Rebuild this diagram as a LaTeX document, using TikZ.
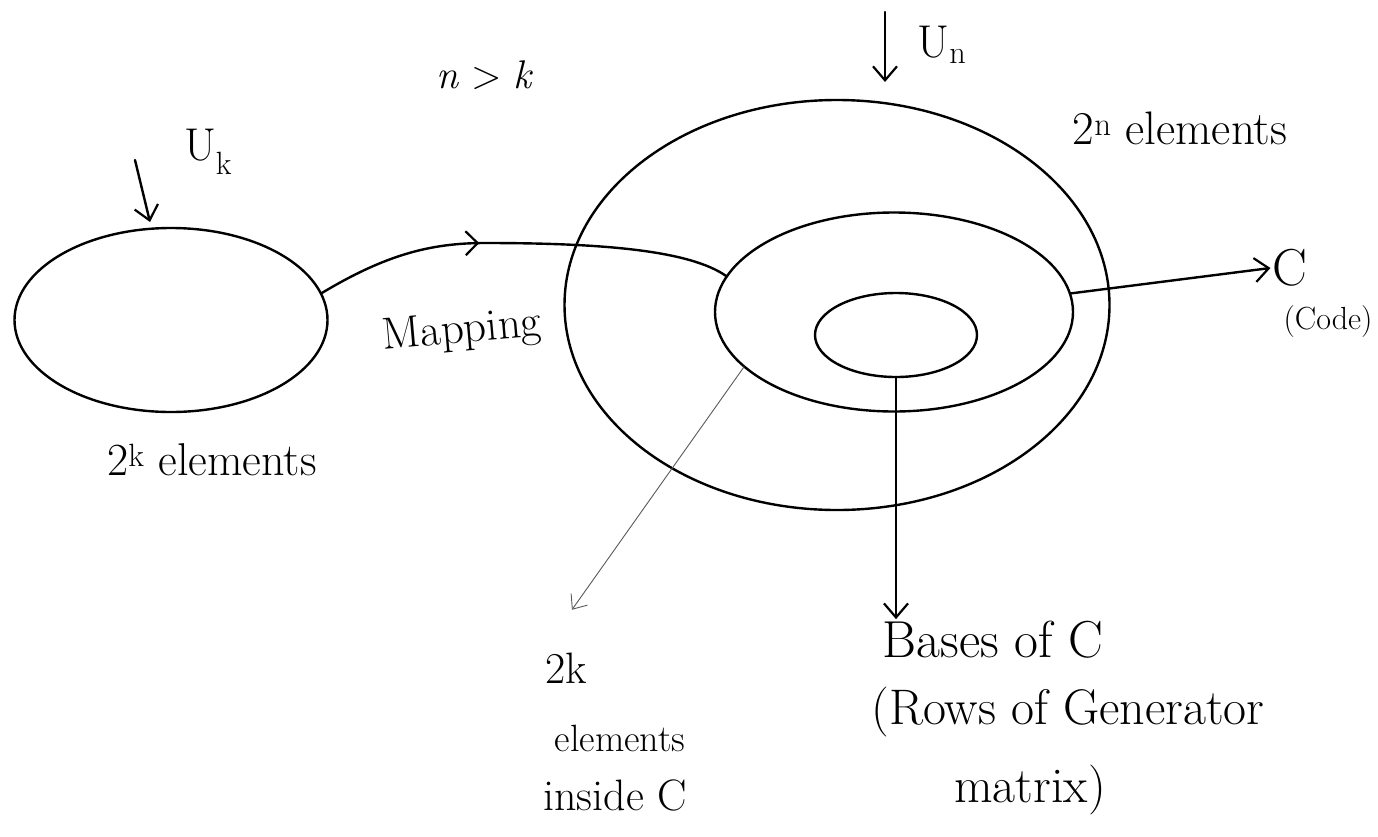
\documentclass[tikz,border=0pt]{standalone}
\usepackage{fontspec}
\setmainfont{Latin Modern Roman}
\usetikzlibrary{shapes.geometric,arrows.meta,decorations.markings}
\newcommand{\hsz}[1]{\fontsize{#1}{#1}\selectfont}
\begin{document}
\begin{tikzpicture}[x=1pt,y=-1pt,
  ink/.style={line width=2.4pt,line cap=round,line join=round},
  oval/.style={ellipse,draw,ink,inner sep=0pt,outer sep=0pt},
  tip/.style={-{Straight Barb[length=14pt,width=24pt,line width=2.2pt]}},
  lbl/.style={inner sep=2pt},
  midarr/.style={postaction={decorate,decoration={markings,
     mark=at position 0.40 with {\arrow[line width=2.2pt]{Straight Barb[length=12pt,width=24pt]}}}}}]
\useasboundingbox (0,0) rectangle (1378,836);

% sets
\node[oval,minimum width=313pt,minimum height=184pt] (A) at (171,320) {};
\node[oval,minimum width=545pt,minimum height=410pt] (B) at (837,305) {};
\node[oval,minimum width=358pt,minimum height=199pt] (M) at (894,312) {};
\node[oval,minimum width=162pt,minimum height=84pt] (I) at (896,335) {};

% labels
\node[lbl] (nk) at (485,75) {\hsz{40}\textit{n} > \textit{k}};
\node[lbl] (uk) at (208,152) {\hsz{46}U\textsubscript{k}};
\node[lbl] (un) at (942,45) {\hsz{46}U\textsubscript{n}};
\node[lbl] (bign) at (1180,128) {\hsz{47}2\textsuperscript{n} elements};
\node[lbl,rotate=5] (map) at (462,332) {\hsz{45}Mapping};
\node[lbl] (C) at (1290,268) {\hsz{52}C};
\node[lbl] (code) at (1328,322) {\hsz{32}(Code)};
\node[lbl] (smallk) at (212,460) {\hsz{46}2\textsuperscript{k} elements};
\node[lbl] (n2k) at (566,668) {\hsz{44}2k};
\node[lbl] (nel) at (620,738) {\hsz{38}elements};
\node[lbl] (nins) at (615,795) {\hsz{44}inside C};
\node[lbl] (bases) at (993,640) {\hsz{52}Bases of C};
\node[lbl] (rows) at (1068,712) {\hsz{50}(Rows of Generator};
\node[lbl] (mat) at (1030,790) {\hsz{50}matrix)};

% pointers to the sets
\coordinate (ukfrom) at (135,160);
\coordinate (ukto) at (150,222);
\draw[ink,tip] (ukfrom) -- (ukto);
\coordinate (unfrom) at (885,12);
\coordinate (unto) at (885,82);
\draw[ink,tip] (unfrom) -- (unto);

% mapping
\draw[ink,midarr] (A.10) .. controls (385,255) and (430,243) .. (485,243)
   .. controls (600,243) and (690,250) .. (M.168);

% to code
\draw[ink,tip] (M.6) -- (C.west);

% bases
\draw[ink,tip] (I.south) -- (bases.north -| I.south);

% 2k elements inside C
\draw[line width=0.9pt,gray!70!black,shorten >=50pt,-{Straight Barb[length=12pt,width=20pt]}] (M.200) -- (n2k.north west);
\end{tikzpicture}
\end{document}
